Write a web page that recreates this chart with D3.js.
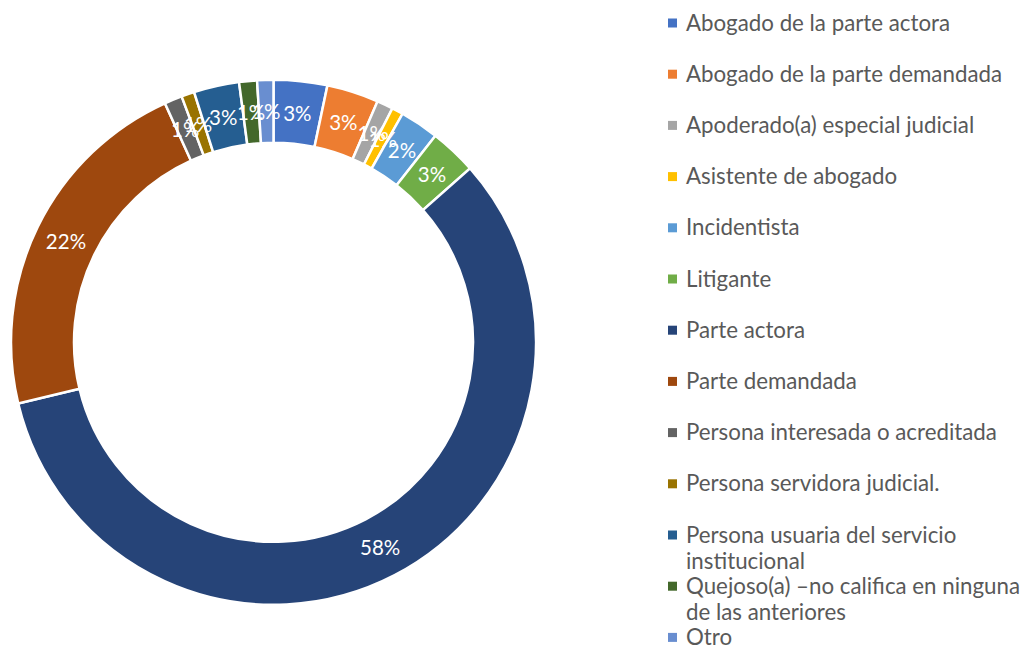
<!DOCTYPE html>
<html>
<head>
<meta charset="utf-8">
<script src="https://cdn.jsdelivr.net/npm/d3@7"></script>
<style>
  html, body { margin: 0; padding: 0; background: #fff; }
  svg { display: block; }
</style>
</head>
<body>
<svg id="chart" width="1022" height="645"></svg>
<script>
const categories = [
  "Abogado de la parte actora",
  "Abogado de la parte demandada",
  "Apoderado(a) especial judicial",
  "Asistente de abogado",
  "Incidentista",
  "Litigante",
  "Parte actora",
  "Parte demandada",
  "Persona interesada o acreditada",
  "Persona servidora judicial.",
  "Persona usuaria del servicio institucional",
  "Quejoso(a) –no califica en ninguna de las anteriores",
  "Otro"
];
const values = [3.3, 3.2, 1.0, 0.7, 2.4, 2.9, 57.9, 22.0, 1.1, 0.8, 2.8, 1.1, 1.0];
const legendLines = [
  ["Abogado de la parte actora"],
  ["Abogado de la parte demandada"],
  ["Apoderado(a) especial judicial"],
  ["Asistente de abogado"],
  ["Incidentista"],
  ["Litigante"],
  ["Parte actora"],
  ["Parte demandada"],
  ["Persona interesada o acreditada"],
  ["Persona servidora judicial."],
  ["Persona usuaria del servicio", "institucional"],
  ["Quejoso(a) –no califica en ninguna", "de las anteriores"],
  ["Otro"]
];
const colors = ["#4472C4", "#ED7D31", "#A5A5A5", "#FFC000", "#5B9BD5", "#70AD47",
                "#264478", "#9E480E", "#636363", "#997300", "#255E91", "#43682B", "#698ED0"];

const svg = d3.select("#chart");
const cx = 273.5, cy = 342.3, R = 262.5, r = 199.5;
const data = categories.map((c, i) => ({ name: c, value: values[i], color: colors[i] }));
const total = d3.sum(values);

const pie = d3.pie().value(d => d.value).sort(null);
const arc = d3.arc().innerRadius(r).outerRadius(R);
const arcs = pie(data);

const g = svg.append("g").attr("transform", `translate(${cx},${cy})`);
g.selectAll("path").data(arcs).join("path")
  .attr("d", arc)
  .attr("fill", d => d.data.color)
  .attr("stroke", "#fff")
  .attr("stroke-width", 2.5)
  .attr("stroke-linejoin", "miter");

const fmt = d3.format(".0%");
g.selectAll("text.lbl").data(arcs).join("text")
  .attr("class", "lbl")
  .attr("transform", d => `translate(${arc.centroid(d)})`)
  .attr("text-anchor", "middle")
  .attr("dominant-baseline", "central")
  .attr("fill", "#fff")
  .style("font-family", "Lato, 'Noto Sans', sans-serif")
  .style("font-size", "20.5px")
  .text(d => fmt(d.data.value / total));

// Legend
const legend = svg.append("g");
const lx = 668, ly0 = 23, step = 51.2, lineH = 26.5;
const items = legend.selectAll("g").data(data).join("g")
  .attr("transform", (d, i) => `translate(${lx},${ly0 + i * step})`);
items.append("rect")
  .attr("x", 0).attr("y", -4.5).attr("width", 9).attr("height", 9)
  .attr("fill", d => d.color);
items.each(function(d, i) {
  const t = d3.select(this).append("text")
    .attr("x", 18)
    .attr("fill", "#595959")
    .style("font-family", "Lato, 'Noto Sans', sans-serif")
    .style("font-size", "22.3px");
  legendLines[i].forEach((ln, k) => {
    t.append("tspan").attr("x", 18).attr("y", 7.5 + k * lineH).text(ln);
  });
});
</script>
</body>
</html>
